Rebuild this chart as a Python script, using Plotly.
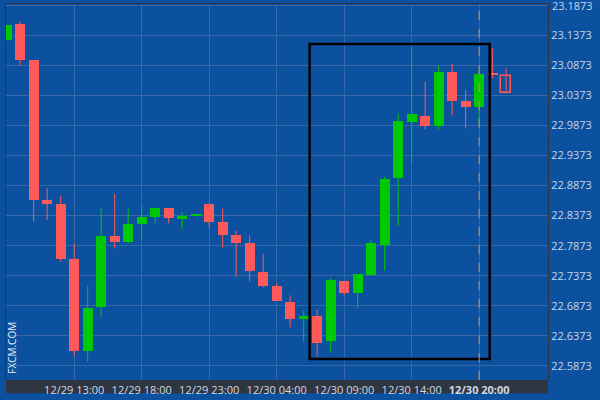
import plotly.graph_objects as go

opens  = [23.129,23.1557,23.0959,22.8632,22.8566,22.7651,22.6128,22.6859,22.8034,22.7939,22.8233,22.8349,22.8499,22.8322,22.8366,22.8566,22.8272,22.805,22.7923,22.7435,22.7208,22.6937,
          22.6649,22.6704,22.6294,22.7286,22.7092,22.7385,22.7884,22.9003,22.9934,23.0028,22.9867,23.0765,23.0283,23.0183,23.0726,23.0698]
closes = [23.154,23.0959,22.8632,22.8566,22.7651,22.6128,22.6837,22.8034,22.7939,22.8233,22.8349,22.8499,22.8333,22.8366,22.8383,22.8272,22.805,22.7923,22.7457,22.7208,22.6959,22.666,
          22.6704,22.6261,22.7302,22.7092,22.7402,22.7917,22.8981,22.9945,23.0061,22.9867,23.0765,23.0283,23.0183,23.0726,23.0715,23.0405]
highs  = [23.154,23.1596,23.0959,22.8826,22.8698,22.7912,22.7214,22.8493,22.8732,22.8493,22.8543,22.8499,22.8499,22.8427,22.8388,22.8566,22.8493,22.8117,22.8045,22.7735,22.7247,22.7048,
          22.6793,22.6815,22.733,22.7286,22.7402,22.7967,22.902,23.0073,23.118,23.0599,23.0859,23.0892,23.046,23.0793,23.1153,23.082]
lows   = [23.129,23.0865,22.8272,22.83,22.7607,22.6045,22.5945,22.6693,22.7829,22.7912,22.7978,22.8244,22.8244,22.8156,22.836,22.8178,22.784,22.7358,22.7275,22.718,22.6959,22.6516,
          22.6283,22.6028,22.61,22.7048,22.6826,22.7385,22.7457,22.8205,22.9253,22.9807,22.9807,23.0039,22.9823,22.9917,23.0654,23.0405]
tick_idx = [5,10,15,20,25,30,35]
tick_text = ["12/29 13:00","12/29 18:00","12/29 23:00","12/30 04:00","12/30 09:00","12/30 14:00","<b>12/30 20:00</b>"]
y_ticks = [23.1873,23.1373,23.0873,23.0373,22.9873,22.9373,22.8873,22.8373,22.7873,22.7373,22.6873,22.6373,22.5873]

GREEN, RED, BG = "#00c805", "#ff5a5a", "#0c51a0"
n = len(opens)
xs = list(range(n))
fig = go.Figure()
for up in (True, False):
    wx, wy = [], []
    for i in xs:
        if (closes[i] >= opens[i]) == up:
            wx += [i, i, None]; wy += [lows[i], highs[i], None]
    fig.add_trace(go.Scatter(x=wx, y=wy, mode="lines", line=dict(color=GREEN if up else RED, width=1), hoverinfo="skip"))
base = [min(o, c) for o, c in zip(opens, closes)]
hgt = [max(abs(c - o), 0.0012) for o, c in zip(opens, closes)]
cols = [GREEN if c >= o else RED for o, c in zip(opens, closes)]
fill = list(cols); fill[-1] = BG
fig.add_trace(go.Bar(x=xs, y=hgt, base=base, width=0.75, marker=dict(color=fill, line=dict(color=cols, width=[0]*(n-1)+[1.5]))))

fig.add_shape(type="rect", x0=22.44, x1=35.78, y0=22.599, y1=23.1225, line=dict(color="black", width=2.5))
fig.add_shape(type="line", x0=35, x1=35, y0=0, y1=1, yref="paper", line=dict(color="#c8926a", width=1, dash="dash"))
fig.add_shape(type="rect", xref="paper", yref="paper", x0=0, x1=1, y0=-0.035, y1=0, fillcolor="#2e3642", line=dict(width=0), layer="below")
fig.add_annotation(text="FXCM.COM", x=0.012, y=0.01, xref="paper", yref="paper", textangle=-90, showarrow=False,
                   xanchor="center", yanchor="bottom", font=dict(color="#e8eef5", size=10, family="Open Sans"))
fig.add_annotation(text=f"{y_ticks[0]:.4f}", x=1, xref="paper", y=y_ticks[0], xshift=2, showarrow=False,
                   xanchor="left", yanchor="middle", font=dict(color="#c9d6e6", size=11, family="Open Sans"))

fig.update_layout(width=600, height=400, margin=dict(l=6, r=52, t=4, b=20, autoexpand=False), paper_bgcolor=BG, plot_bgcolor=BG,
                  showlegend=False, bargap=0,
                  font=dict(family="Open Sans", color="#c9d6e6", size=11),
                  xaxis=dict(range=[-0.05, 40.1], tickvals=tick_idx, ticktext=tick_text, showgrid=True, gridcolor="#3868a8", automargin=False,
                             zeroline=False, showline=True, linecolor="#2b3440", mirror=True, ticks="", ticklabelstandoff=0, tickfont=dict(color="#d0d8e2")),
                  yaxis=dict(range=[22.564, 23.189], side="right", tickvals=y_ticks, ticktext=[f"{v:.4f}" for v in y_ticks], automargin=False,
                             showgrid=True, gridcolor="#3868a8", zeroline=False, showline=True, linecolor="#2b3440", mirror=True, ticks=""))
fig.write_html("out.html", config={"displayModeBar": False},
               post_script="document.body.style.margin='0';document.body.style.background='#0c51a0';")
